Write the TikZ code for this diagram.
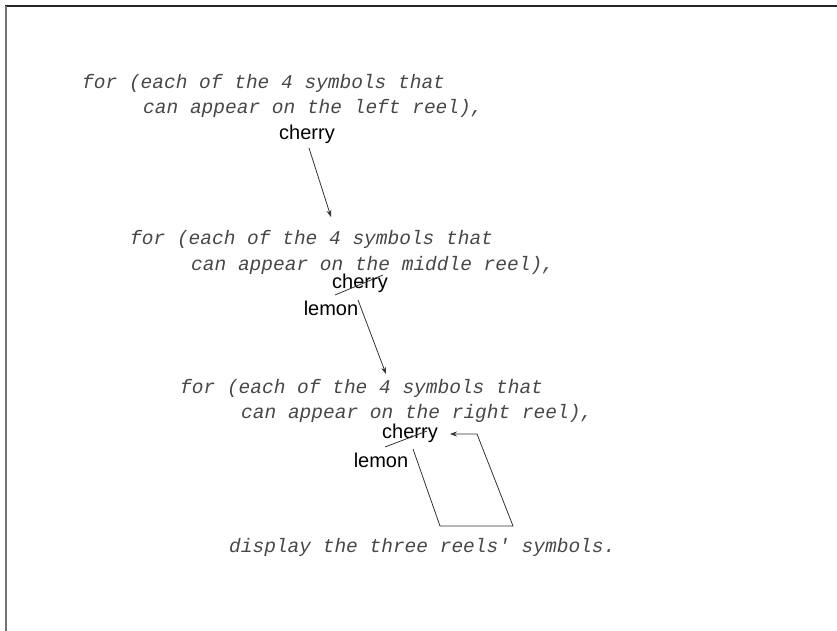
\documentclass[tikz,border=0pt]{standalone}
\usepackage{fontspec}
\setmainfont{Liberation Sans}
\newfontfamily\codefont{Liberation Mono}
\usetikzlibrary{arrows.meta}
\tikzset{
  code/.style={font=\codefont\itshape\fontsize{19.5}{22}\selectfont, anchor=base west, inner sep=0pt, text=black!72},
  sym/.style={font=\fontsize{20}{22}\selectfont, inner sep=0pt, text=black},
  conn/.style={draw=black!80, line width=0.8pt},
  arr/.style={conn, -{Stealth[length=7pt,width=5pt]}}
}
\begin{document}
\begin{tikzpicture}[x=1pt,y=-1pt]
\useasboundingbox (0,0) rectangle (837,631);
% frame
\draw[black!85, line width=1.5pt] (5,6) -- (837,6);
\draw[black!55, line width=2pt] (6,6) -- (6,631);
% texts
\node[code] (l1) at (82,89) {for (each of the 4 symbols that};
\node[code] (l2) at (143,114) {can appear on the left reel),};
\node[sym] (c1) at (307,134) {cherry};
\node[code] (m1) at (130,244) {for (each of the 4 symbols that};
\node[code] (m2) at (191,270) {can appear on the middle reel),};
\node[sym] (c2) at (360,283) {cherry};
\node[sym] (le2) at (331,308) {lemon};
\node[code] (r1) at (180,393) {for (each of the 4 symbols that};
\node[code] (r2) at (241,418) {can appear on the right reel),};
\node[sym] (c3) at (410,433) {cherry};
\node[sym] (le3) at (381,460) {lemon};
\node[code] (d) at (229,552) {display the three reels' symbols.};
% connectors
\coordinate (a1s) at (309,148);
\coordinate (a1e) at (331,217);
\draw[arr] (a1s) -- (a1e);
\coordinate (x2s) at (335,295);
\coordinate (x2e) at (383,275);
\draw[conn] (x2s) -- (x2e);
\coordinate (a2s) at (358,300);
\coordinate (a2e) at (386,374);
\draw[arr] (a2s) -- (a2e);
\coordinate (x3s) at (385,447);
\coordinate (x3e) at (427,431);
\draw[conn] (x3s) -- (x3e);
\coordinate (p1) at (413,449);
\coordinate (p2) at (440,526);
\coordinate (p3) at (513,526);
\coordinate (p4) at (477,434);
\coordinate (p5) at (450,434);
\draw[conn, -{Stealth[length=7pt,width=5pt]}] (p1) -- (p2) -- (p3) -- (p4) -- (p5);
\end{tikzpicture}
\end{document}
